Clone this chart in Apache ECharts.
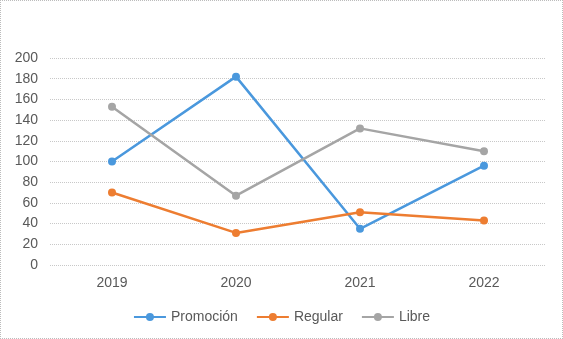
<!DOCTYPE html>
<html><head><meta charset="utf-8">
<script src="https://cdn.jsdelivr.net/npm/echarts@6/dist/echarts.min.js"></script>
<style>
html,body{margin:0;padding:0;background:#fff;}
#c{width:561px;height:337px;border:1px dotted #bcbcbc;}
</style></head>
<body><div id="c"></div>
<script>
const categories = ['2019','2020','2021','2022'];
const promocion = [100, 182, 35, 96];
const regular = [70, 31, 51, 43];
const libre = [153, 67, 132, 110];

const chart = echarts.init(document.getElementById('c'));
function s(name, data, color){
  return {name, type:'line', data, symbol:'circle', symbolSize:8,
    lineStyle:{color, width:2.5}, itemStyle:{color}};
}
chart.setOption({
  animation:false,
  textStyle:{fontFamily:'Liberation Sans, Arial, sans-serif'},
  grid:{left:49, right:16, top:57, bottom:73},
  legend:{bottom:9, left:'center', itemWidth:32, itemHeight:10, itemGap:18,
    textStyle:{color:'#595959', fontSize:14, fontFamily:'Liberation Sans'},
    data:['Promoción','Regular','Libre']},
  xAxis:{type:'category', data:categories, boundaryGap:true,
    axisLine:{show:false}, axisTick:{show:false},
    axisLabel:{color:'#595959', fontSize:14, margin:11}},
  yAxis:{type:'value', min:0, max:200, interval:20,
    axisLine:{show:false}, axisTick:{show:false},
    axisLabel:{color:'#595959', fontSize:14, margin:12},
    splitLine:{lineStyle:{color:'#c8c8c8', type:'dotted', width:1}}},
  series:[
    s('Promoción', promocion, '#4A98DD'),
    s('Regular', regular, '#ED7D31'),
    s('Libre', libre, '#A5A5A5')
  ]
});
</script></body></html>
